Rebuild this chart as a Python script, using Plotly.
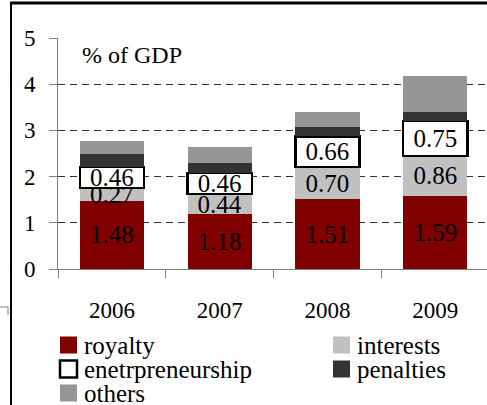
import plotly.graph_objects as go

years = ["2006", "2007", "2008", "2009"]
royalty = [1.48, 1.18, 1.51, 1.59]
interests = [0.27, 0.44, 0.70, 0.86]
entrepreneurship = [0.46, 0.46, 0.66, 0.75]
penalties = [0.28, 0.21, 0.21, 0.20]
others = [0.27, 0.36, 0.32, 0.78]

W, H = 487, 405
L, R, T, B = 58, 0, 38, 136
PW = W - L - R
PH = H - T - B

def px(x):
    return (x - L) / PW

def py(y):
    return (H - B - y) / PH

FONT = "Liberation Serif"

def F(size):
    return dict(family=FONT, size=size, color="black")

def fmt(v):
    return ["%.2f" % x for x in v]

fig = go.Figure()
common = dict(width=0.595, textposition="inside", insidetextanchor="middle",
              constraintext="none", textfont=F(25),
              showlegend=False, hoverinfo="skip")
fig.add_bar(x=years, y=royalty, text=fmt(royalty), marker=dict(color="#800000", line=dict(width=0)), name="royalty", **common)
fig.add_bar(x=years, y=interests, text=fmt(interests), marker=dict(color="#C0C0C0", line=dict(width=0)), name="interests", **common)
fig.add_bar(x=years, y=entrepreneurship, text=fmt(entrepreneurship), marker=dict(color="white", line=dict(width=2.5, color="black")), name="enetrpreneurship", **common)
fig.add_bar(x=years, y=penalties, marker=dict(color="#333333", line=dict(width=0)), name="penalties", width=0.595, showlegend=False, hoverinfo="skip")
fig.add_bar(x=years, y=others, marker=dict(color="#969696", line=dict(width=0)), name="others", width=0.595, showlegend=False, hoverinfo="skip")

fig.update_layout(
    barmode="stack", bargap=0.4,
    width=W, height=H, margin=dict(l=L, r=R, t=T, b=B, pad=0),
    paper_bgcolor="white", plot_bgcolor="white",
    font=F(22),
    xaxis=dict(type="category", range=[-0.5, 3.48], showline=True, linecolor="#808080", linewidth=1,
               ticks="outside", ticklen=8, tickcolor="#808080", tickson="boundaries",
               ticklabelstandoff=20, tickfont=F(23), showgrid=False),
    yaxis=dict(range=[0, 5], dtick=1, showline=True, linecolor="#808080", linewidth=1,
               ticks="outside", ticklen=8, tickcolor="#808080", ticklabelstandoff=9,
               tickfont=F(23), showgrid=True, gridcolor="#333333", gridwidth=1,
               griddash="7px,5px", zeroline=False),
)

fig.add_annotation(x=px(80), y=py(55), xref="paper", yref="paper", text="% of GDP",
                   showarrow=False, xanchor="left", yanchor="middle", font=F(24))

# frame lines
fig.add_shape(type="line", xref="paper", yref="paper", x0=px(10), x1=px(487), y0=py(3), y1=py(3),
              line=dict(color="black", width=3))
fig.add_shape(type="line", xref="paper", yref="paper", x0=px(11), x1=px(11), y0=py(3), y1=py(405),
              line=dict(color="black", width=2))
fig.add_shape(type="path", xref="paper", yref="paper",
              path="M %f,%f L %f,%f L %f,%f" % (px(0), py(307), px(8), py(307), px(8), py(315)),
              line=dict(color="#808080", width=1))

# legend (manual, two columns)
legend_items = [
    ("royalty", "#800000", None, 60, 345),
    ("interests", "#C0C0C0", None, 333, 345),
    ("enetrpreneurship", "white", "black", 60, 369),
    ("penalties", "#333333", None, 333, 369),
    ("others", "#969696", None, 60, 393),
]
for name, col, border, x0, yc in legend_items:
    fig.add_shape(type="rect", xref="paper", yref="paper",
                  x0=px(x0), x1=px(x0 + 17), y0=py(yc - 8.5), y1=py(yc + 8.5),
                  fillcolor=col, line=dict(color=border or col, width=2.5 if border else 0))
    fig.add_annotation(x=px(x0 + 22), y=py(yc), xref="paper", yref="paper", text=name,
                       showarrow=False, xanchor="left", yanchor="middle", font=F(25))

fig.write_html("out.html", config={"displayModeBar": False},
               post_script="document.body.style.margin='0px';document.body.style.overflow='hidden';")
